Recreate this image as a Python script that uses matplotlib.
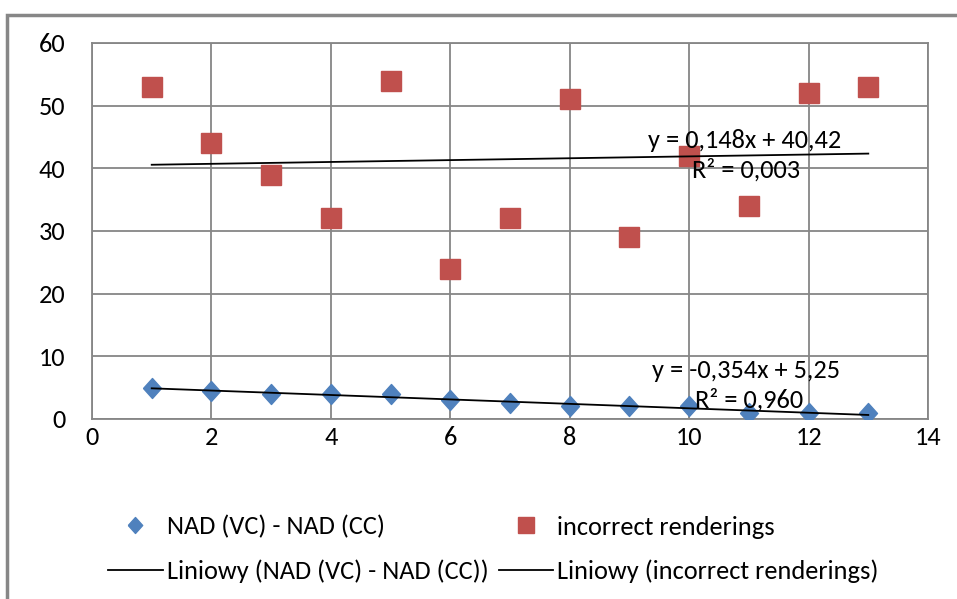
import matplotlib.pyplot as plt
import numpy as np
from matplotlib.patches import Rectangle
from matplotlib.lines import Line2D

plt.rcParams['font.family'] = ['Carlito', 'Liberation Sans Narrow', 'DejaVu Sans']

x = [1, 2, 3, 4, 5, 6, 7, 8, 9, 10, 11, 12, 13]
nad_diff = [5, 4.5, 4, 4, 4, 3, 2.5, 2, 2, 2, 1, 1, 1]
incorrect = [53, 44, 39, 32, 54, 24, 32, 51, 29, 42, 34, 52, 53]

blue = '#4F81BD'
red = '#C0504D'
grid_c = '#868686'
diamond = [(-0.45, 0), (0, 0.5), (0.45, 0), (0, -0.5), (-0.45, 0)]
fs = 19

fig = plt.figure(figsize=(9.57, 5.99), dpi=100)
ax = fig.add_axes([92 / 957, 1 - 419 / 599, 836 / 957, 376 / 599])

# outer chart frame
fig.patches.append(Rectangle((7 / 957, -0.1), 1.2, 1 - 15 / 599 + 0.1,
                             transform=fig.transFigure, fill=False,
                             edgecolor='#878787', linewidth=2.5))

ax.plot(x, nad_diff, linestyle='', marker=diamond, markersize=14.4,
        color=blue, zorder=3)
ax.plot(x, incorrect, linestyle='', marker='s', markersize=14.6,
        color=red, zorder=3)

xs = np.array([x[0], x[-1]])
k1, b1 = np.polyfit(x, nad_diff, 1)
k2, b2 = np.polyfit(x, incorrect, 1)
ax.plot(xs, k1 * xs + b1, color='black', linewidth=1.3, zorder=4)
ax.plot(xs, k2 * xs + b2, color='black', linewidth=1.3, zorder=4)

ax.text(9.31, 44.5, 'y = 0,148x + 40,42', fontsize=fs, va='center', zorder=5)
ax.text(10.05, 39.7, 'R² = 0,003', fontsize=fs, va='center', zorder=5)
ax.text(9.38, 7.7, 'y = -0,354x + 5,25', fontsize=fs, va='center', zorder=5)
ax.text(10.1, 3.05, 'R² = 0,960', fontsize=fs, va='center', zorder=5)

ax.set_xlim(0, 14)
ax.set_ylim(0, 60)
ax.set_xticks(range(0, 15, 2))
ax.set_yticks(range(0, 61, 10))
ax.grid(True, color=grid_c, linewidth=1.3)
ax.set_axisbelow(True)
for s in ax.spines.values():
    s.set_color(grid_c)
    s.set_linewidth(1.3)
ax.tick_params(labelsize=fs, length=0, pad=5, colors='black')
ax.tick_params(axis='y', pad=19)

handles = [
    Line2D([], [], marker=diamond, linestyle='', color=blue, markersize=11.5),
    Line2D([], [], color='black', linewidth=1.3),
    Line2D([], [], marker='s', linestyle='', color=red, markersize=11.5),
    Line2D([], [], color='black', linewidth=1.3),
]
labels = ['NAD (VC) - NAD (CC)', 'Liniowy (NAD (VC) - NAD (CC))',
          'incorrect renderings', 'Liniowy (incorrect renderings)']
fig.legend(handles, labels, ncol=2, frameon=False, fontsize=fs,
           loc='center left', bbox_to_anchor=(108 / 957, 1 - 549 / 599),
           borderpad=0, borderaxespad=0, columnspacing=0.38,
           handlelength=2.08, handletextpad=0.15, labelspacing=0.78)

fig.savefig('out.png', dpi=100)
